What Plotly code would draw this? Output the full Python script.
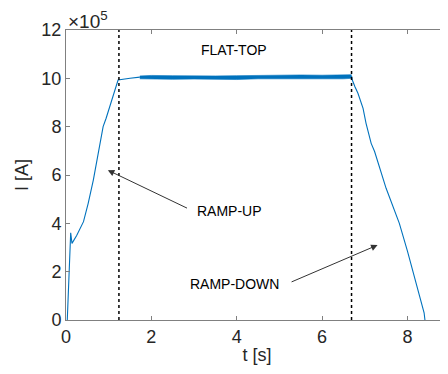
import plotly.graph_objects as go

# Ramp-up segment (t [s], I [x1e5 A])
t_up = [0.03, 0.06, 0.09, 0.11, 0.14, 0.25, 0.41, 0.52, 0.64, 0.75, 0.87, 0.94, 1.05, 1.22, 1.5, 1.73]
i_up = [0.0, 1.5, 3.0, 3.61, 3.17, 3.5, 4.07, 4.83, 5.79, 6.8, 8.0, 8.35, 8.95, 9.93, 10.0, 10.05]

# Flat-top envelope (noisy band)
t_ft = [1.73, 2.0, 2.5, 3.0, 3.5, 4.0, 4.5, 5.0, 5.5, 6.0, 6.5, 6.69]
i_ft_hi = [10.1, 10.12, 10.11, 10.12, 10.1, 10.11, 10.13, 10.14, 10.14, 10.13, 10.14, 10.15]
i_ft_lo = [9.98, 9.97, 9.96, 9.97, 9.95, 9.95, 9.98, 9.99, 9.98, 9.98, 9.98, 10.0]

# Ramp-down segment
t_dn = [6.69, 6.71, 6.77, 6.84, 6.96, 7.03, 7.15, 7.23, 7.5, 7.81, 8.0, 8.16, 8.26, 8.34, 8.39, 8.41]
i_dn = [10.1, 9.92, 9.65, 9.38, 8.76, 8.14, 7.31, 6.97, 5.45, 4.0, 2.85, 1.79, 1.2, 0.69, 0.3, 0.0]

# Phase boundaries
t_bounds = [1.24, 6.69]

blue = "#0072BD"
fig = go.Figure()
fig.add_trace(go.Scatter(x=t_up, y=i_up, mode="lines", line=dict(color=blue, width=1.1), showlegend=False))
fig.add_trace(go.Scatter(x=t_ft, y=i_ft_lo, mode="lines", line=dict(color=blue, width=0.6), showlegend=False))
fig.add_trace(go.Scatter(x=t_ft, y=i_ft_hi, mode="lines", line=dict(color=blue, width=0.6),
                         fill="tonexty", fillcolor=blue, showlegend=False))
fig.add_trace(go.Scatter(x=t_dn, y=i_dn, mode="lines", line=dict(color=blue, width=1.1), showlegend=False))

for tb in t_bounds:
    fig.add_shape(type="line", x0=tb, x1=tb, y0=0, y1=12, xref="x", yref="y",
                  line=dict(color="black", width=1.5, dash="dot"))

font_txt = dict(family="Liberation Sans, Arial", size=14, color="black")
fig.add_annotation(x=3.93, y=11.17, text="FLAT-TOP", showarrow=False, font=font_txt)
fig.add_annotation(x=3.84, y=4.5, text="RAMP-UP", showarrow=False, font=font_txt)
fig.add_annotation(x=3.95, y=1.49, text="RAMP-DOWN", showarrow=False, font=font_txt)
# arrows
fig.add_annotation(x=0.98, y=6.2, ax=2.87, ay=4.6, xref="x", yref="y", axref="x", ayref="y",
                   text="", showarrow=True, arrowhead=2, arrowsize=1.3, arrowwidth=1, arrowcolor="#333")
fig.add_annotation(x=7.3, y=3.1, ax=5.25, ay=1.55, xref="x", yref="y", axref="x", ayref="y",
                   text="", showarrow=True, arrowhead=2, arrowsize=1.3, arrowwidth=1, arrowcolor="#333")

fig.add_annotation(x=0.0, y=1.0, xref="paper", yref="paper", xanchor="left", yanchor="bottom",
                   text="×10<sup>5</sup>", showarrow=False, yshift=-4,
                   font=dict(family="Liberation Sans, Arial", size=19, color="#262626"))

axis_common = dict(showgrid=False, zeroline=False, showline=True, linecolor="#808080", linewidth=1,
                   mirror="ticks", ticks="inside", ticklen=4, tickcolor="#808080", automargin=False,
                   tickfont=dict(family="Liberation Sans, Arial", size=18, color="#262626"))
fig.update_xaxes(range=[0, 8.95], tickvals=[0, 2, 4, 6, 8], **axis_common,
                 title=dict(text="t [s]", font=dict(family="Liberation Sans, Arial", size=18, color="#262626"), standoff=2))
fig.update_yaxes(range=[0, 12], tickvals=[0, 2, 4, 6, 8, 10, 12], **axis_common,
                 title=dict(text="I [A]", font=dict(family="Liberation Sans, Arial", size=18, color="#262626"), standoff=8))

# page body has an 8px margin; compensate so the plot box lands at x 66..448, y 30..320
fig.update_layout(width=440, height=366, margin=dict(l=58, r=0, t=22, b=54),
                  plot_bgcolor="white", paper_bgcolor="white")
fig.write_html("out.html")
